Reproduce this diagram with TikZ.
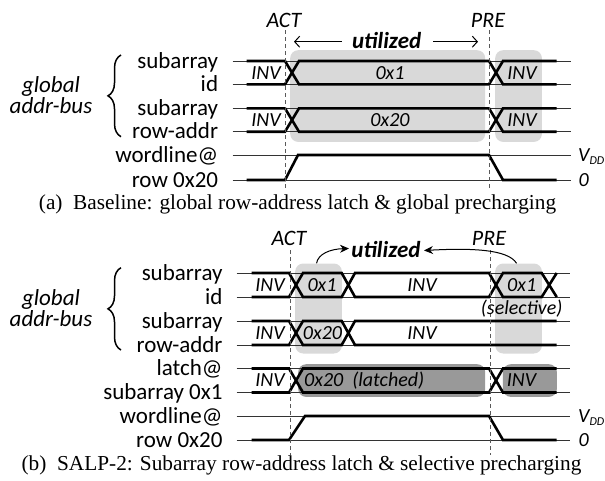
\documentclass[tikz,border=0pt]{standalone}
\usepackage{fontspec}
\setmainfont{Liberation Serif}
\newfontfamily\calfont{Carlito}
\usetikzlibrary{decorations.pathreplacing,arrows.meta}
\tikzset{
  thinln/.style={line width=0.8pt, black!80},
  thickln/.style={line width=2.6pt, line join=miter},
  lbox/.style={fill=black!15, rounded corners=8pt, inner sep=0pt, anchor=north west},
  dbox/.style={fill=black!40, rounded corners=8pt, inner sep=0pt, anchor=north west},
  vdash/.style={dash pattern=on 4pt off 3pt, line width=0.9pt, black!65},
  lab/.style={font=\calfont\fontsize{23}{23}\selectfont, anchor=base east, inner sep=0pt},
  sig/.style={font=\calfont\itshape\fontsize{20}{20}\selectfont, inner sep=0pt},
  evt/.style={font=\calfont\itshape\fontsize{22}{22}\selectfont, anchor=base, inner sep=0pt},
  grp/.style={font=\calfont\itshape\fontsize{23}{23}\selectfont, anchor=base, inner sep=0pt},
  lvl/.style={font=\calfont\itshape\fontsize{20}{20}\selectfont, anchor=base west, inner sep=0pt},
  capt/.style={font=\fontsize{21.3}{21.3}\selectfont, anchor=base, inner sep=0pt},
  brc/.style={decorate, decoration={brace, amplitude=13pt}, line width=1.5pt},
  util/.style={font=\calfont\bfseries\itshape\fontsize{23}{23}\selectfont, anchor=base, inner sep=0pt},
  openarr/.style={line width=1pt, -{Straight Barb[length=5pt,width=11pt]}},
  curvarr/.style={line width=1pt, -{Stealth[length=9pt,width=8pt]}},
}
\newcommand{\vdd}{V\raisebox{-3pt}{\fontsize{12}{12}\selectfont DD}}
\begin{document}
\begin{tikzpicture}[x=1pt,y=-1pt]
\useasboundingbox (0,0) rectangle (605,480);

% ================= (a) Baseline =================
\node[lbox, minimum width=195pt, minimum height=91.7pt] (ga1) at (290,50) {};
\node[lbox, minimum width=46.7pt, minimum height=91.7pt] (ga2) at (495,50) {};

\foreach \yy in {61,84.3,108.3,131.7,155,180}
  \draw[thinln] (232.7,\yy) -- (570.7,\yy);

\draw[thickln] (246.7,61)--(285,61)--(299,84.3)--(489,84.3)--(503,61)--(556.7,61);
\draw[thickln] (246.7,84.3)--(285,84.3)--(299,61)--(489,61)--(503,84.3)--(556.7,84.3);
\draw[thickln] (246.7,108.3)--(285,108.3)--(299,131.7)--(489,131.7)--(503,108.3)--(556.7,108.3);
\draw[thickln] (246.7,131.7)--(285,131.7)--(299,108.3)--(489,108.3)--(503,131.7)--(556.7,131.7);
\draw[thickln] (246.7,180)--(285,180)--(298,155)--(489,155)--(503,180)--(556.7,180);

\node[evt] (actA) at (284,27.5) {ACT};
\node[evt] (preA) at (488,27.5) {PRE};
\draw[vdash] (285,30) -- (285,190);
\draw[vdash] (489.3,30) -- (489.3,190);

\node[util] (utA) at (386.7,48) {utilized};
\coordinate (uaL) at (294,41.7);
\coordinate (uaR) at (478,41.7);
\draw[openarr] (341.7,41.7) -- (uaL);
\draw[openarr] (433,41.7) -- (uaR);

\node[sig] (a1inv) at (266,72.7) {INV};
\node[sig] (a1val) at (390,72.7) {0x1};
\node[sig] (a1inv2) at (522,72.7) {INV};
\node[sig] (a2inv) at (266,120) {INV};
\node[sig] (a2val) at (390,120) {0x20};
\node[sig] (a2inv2) at (522,120) {INV};

\node[lab] (la1) at (218.3,68) {subarray};
\node[lab] (la2) at (218.3,91) {id};
\node[lab] (la3) at (218.3,115) {subarray};
\node[lab] (la4) at (218.3,138.5) {row-addr};
\node[lab] (la5) at (218.3,162) {wordline@};
\node[lab] (la6) at (218.3,187) {row 0x20};

\node[grp] (gA) at (51,92) {global};
\node[grp] (bA) at (51,113.5) {addr-bus};
\draw[brc] (121,136.7) -- (121,55);

\node[lvl] (vddA) at (578,161.5) {\vdd};
\node[lvl] (gndA) at (578.5,186) {0};

\node[capt] (capA) at (297.5,209.5) {(a)\enspace Baseline: global row-address latch \& global precharging};

% ================= (b) SALP-2 =================
\node[lbox, minimum width=46.7pt, minimum height=90pt] (gb1) at (295,263.3) {};
\node[lbox, minimum width=46.7pt, minimum height=90pt] (gb2) at (495,263.3) {};
\node[dbox, minimum width=187pt, minimum height=32.7pt] (db1) at (298,364) {};
\node[dbox, minimum width=54pt, minimum height=32.7pt] (db2) at (502.7,364) {};

\foreach \yy in {273,297,321,345,368.5,392.5,416,440}
  \draw[thinln] (236.7,\yy) -- (570,\yy);

\draw[thickln] (251.7,273)--(289,273)--(303,297)--(341.7,297)--(355,273)--(489,273)--(503,297)--(541.7,297)--(556.7,273);
\draw[thickln] (251.7,297)--(289,297)--(303,273)--(341.7,273)--(355,297)--(489,297)--(503,273)--(541.7,273)--(556.7,297);
\draw[thickln] (251.7,321)--(289,321)--(303,345)--(341.7,345)--(355,321)--(556.7,321);
\draw[thickln] (251.7,345)--(289,345)--(303,321)--(341.7,321)--(355,345)--(556.7,345);
\draw[thickln] (251.7,368.5)--(289,368.5)--(303,392.5)--(489,392.5)--(503,368.5)--(556.7,368.5);
\draw[thickln] (251.7,392.5)--(289,392.5)--(303,368.5)--(489,368.5)--(503,392.5)--(556.7,392.5);
\draw[thickln] (251.7,440)--(289,440)--(305,416)--(489,416)--(503,440)--(556.7,440);

\node[evt] (actB) at (289,245) {ACT};
\node[evt] (preB) at (489,245) {PRE};
\draw[vdash] (290,250) -- (290,455);
\draw[vdash] (490,250) -- (490,455);

\node[util] (utB) at (386,257) {utilized};
\draw[curvarr] ([xshift=-2pt]gb1.north) .. controls (318,254) and (330,249) .. (349,248.5);
\draw[curvarr] ([xshift=-2pt]gb2.north) .. controls (508,249) and (470,248) .. (424,250.5);

\node[sig] (b1inv) at (270,285) {INV};
\node[sig] (b1val) at (322,285) {0x1};
\node[sig] (b1inv2) at (422,285) {INV};
\node[sig] (b1val2) at (521.7,285) {0x1};
\node[sig] (selB) at (521.7,309) {(selective)};
\node[sig] (b2inv) at (270,333) {INV};
\node[sig] (b2val) at (322.5,333) {0x20};
\node[sig] (b2inv2) at (422,333) {INV};
\node[sig] (b3inv) at (270,380.5) {INV};
\node[sig, anchor=west] (b3val) at (304,380.5) {0x20 \ (latched)};
\node[sig] (b3inv2) at (521.5,380.5) {INV};

\node[lab] (lb1) at (222.7,280) {subarray};
\node[lab] (lb2) at (222.7,304) {id};
\node[lab] (lb3) at (222.7,328) {subarray};
\node[lab] (lb4) at (222.7,352) {row-addr};
\node[lab] (lb5) at (222.7,375.5) {latch@};
\node[lab] (lb6) at (222.7,399.5) {subarray 0x1};
\node[lab] (lb7) at (222.7,423) {wordline@};
\node[lab] (lb8) at (222.7,447) {row 0x20};

\node[grp] (gB) at (51,305.3) {global};
\node[grp] (bB) at (51,326.8) {addr-bus};
\draw[brc] (121,350) -- (121,267.7);

\node[lvl] (vddB) at (578,422.5) {\vdd};
\node[lvl] (gndB) at (578.5,446) {0};

\node[capt] (capB) at (301.5,470) {(b)\enspace SALP-2: Subarray row-address latch \& selective precharging};
\end{tikzpicture}
\end{document}
